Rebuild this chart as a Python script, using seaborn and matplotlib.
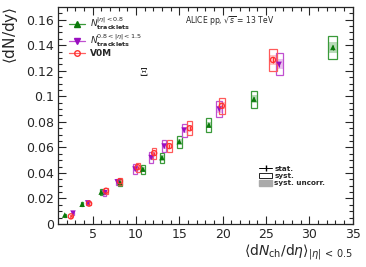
import numpy as np
import pandas as pd
import matplotlib
matplotlib.use("Agg")
import matplotlib.pyplot as plt
import seaborn as sns
from matplotlib.patches import Rectangle, Patch
from matplotlib.lines import Line2D

# Xi yields vs multiplicity, three estimators
trk08_x = [1.8, 3.8, 6.0, 8.15, 10.8, 13.0, 15.0, 18.4, 23.6, 32.7]
trk08_y = [0.0070, 0.0155, 0.0250, 0.0325, 0.0430, 0.0520, 0.0645, 0.0775, 0.0978, 0.1383]
trk08_sys = [0.0012, 0.0015, 0.0022, 0.0026, 0.0036, 0.0040, 0.0048, 0.0055, 0.0067, 0.0092]
trk08_xsys = [0.10, 0.15, 0.18, 0.20, 0.22, 0.24, 0.27, 0.30, 0.39, 0.52]

trk15_x = [2.75, 4.45, 6.4, 7.85, 9.9, 11.75, 13.25, 15.55, 19.6, 26.5]
trk15_y = [0.0085, 0.0165, 0.0245, 0.0330, 0.0430, 0.0520, 0.0610, 0.0735, 0.0900, 0.1250]
trk15_sys = [0.0012, 0.0014, 0.0022, 0.0026, 0.0038, 0.0042, 0.0046, 0.0052, 0.0060, 0.0086]
trk15_xsys = [0.15, 0.17, 0.18, 0.20, 0.22, 0.24, 0.26, 0.29, 0.33, 0.40]

v0m_x = [2.5, 4.6, 6.55, 8.15, 10.2, 12.1, 13.85, 16.2, 19.9, 25.8]
v0m_y = [0.0060, 0.0160, 0.0260, 0.0335, 0.0445, 0.0555, 0.0610, 0.0750, 0.0925, 0.1285]
v0m_sys = [0.0012, 0.0014, 0.0022, 0.0026, 0.0036, 0.0042, 0.0046, 0.0054, 0.0060, 0.0085]
v0m_xsys = [0.15, 0.17, 0.18, 0.20, 0.22, 0.24, 0.26, 0.29, 0.33, 0.45]

series = [
    ("trk08", trk08_x, trk08_y, trk08_sys, trk08_xsys, "#0b7a0b", "#3a9a3a"),
    ("trk15", trk15_x, trk15_y, trk15_sys, trk15_xsys, "#9a0fc0", "#c050d0"),
    ("v0m", v0m_x, v0m_y, v0m_sys, v0m_xsys, "#ff3030", "#ff5a5a"),
]

rows = []
for name, xs, ys, sy, sx, c1, c2 in series:
    for a, b in zip(xs, ys):
        rows.append({"est": name, "x": a, "y": b})
df = pd.DataFrame(rows)

sns.set_style("ticks")
fig = plt.figure(figsize=(3.66, 2.67), dpi=100)
ax = fig.add_axes([0.158, 0.161, 0.806, 0.813])

for name, xs, ys, sy, sx, c1, c2 in series:
    for a, b, e, w in zip(xs, ys, sy, sx):
        ax.add_patch(Rectangle((a - w, b - e), 2 * w, 2 * e, fill=False,
                               edgecolor=c2, lw=0.9, zorder=2))
        ax.add_patch(Rectangle((a - w, b - 0.45 * e), 2 * w, 0.9 * e,
                               facecolor=c2, alpha=0.35, lw=0, zorder=2))
    ax.errorbar(xs, ys, yerr=[0.0006 * (1 + v / 0.05) for v in ys], fmt="none",
                ecolor=c1, elinewidth=0.8, zorder=3)

sub = df[df.est == "trk08"]
sns.scatterplot(data=sub, x="x", y="y", marker="^", color="#0b7a0b", s=16,
                edgecolor="none", ax=ax, zorder=4, legend=False)
sub = df[df.est == "trk15"]
sns.scatterplot(data=sub, x="x", y="y", marker="v", color="#9a0fc0", s=16,
                edgecolor="none", ax=ax, zorder=4, legend=False)
sub = df[df.est == "v0m"]
sns.scatterplot(data=sub, x="x", y="y", marker="o", facecolor="none",
                edgecolor="#ff3030", linewidth=0.9, s=14, ax=ax, zorder=4, legend=False)

ax.set_xlim(1, 35)
ax.set_ylim(0, 0.17)
ax.set_xticks([5, 10, 15, 20, 25, 30, 35])
ax.set_xticks(np.arange(2, 35, 1), minor=True)
ax.set_yticks(np.arange(0, 0.161, 0.02))
ax.set_yticks(np.arange(0, 0.17, 0.005), minor=True)
ax.set_yticklabels(["0", "0.02", "0.04", "0.06", "0.08", "0.1", "0.12", "0.14", "0.16"])
ax.tick_params(which="both", direction="in", top=True, right=True, labelsize=9,
               width=0.8, pad=3)
ax.tick_params(which="major", length=6)
ax.tick_params(which="minor", length=3)
for s in ax.spines.values():
    s.set_linewidth(0.9)

ax.set_xlabel(r"$\langle$d$N_{\rm ch}$/d$\eta\rangle_{|\eta|\,<\,0.5}$", fontsize=10,
              loc="right", labelpad=1)
ax.set_ylabel(r"$\langle$dN/dy$\rangle$", fontsize=11, loc="top", labelpad=4)

ax.text(0.43, 0.965, r"ALICE pp, $\sqrt{s}$ = 13 TeV", transform=ax.transAxes,
        fontsize=5.5, va="top")
ax.text(10.9, 0.118, "Ξ", fontsize=9, family="Liberation Serif", ha="center",
        va="center")

h1 = [
    Line2D([], [], color="#3a9a3a", marker="^", markerfacecolor="#0b7a0b",
           markeredgecolor="#0b7a0b", markersize=4, lw=0.9),
    Line2D([], [], color="#c050d0", marker="v", markerfacecolor="#9a0fc0",
           markeredgecolor="#9a0fc0", markersize=4, lw=0.9),
    Line2D([], [], color="#ff6060", marker="o", markerfacecolor="none",
           markeredgecolor="#ff3030", markersize=4, lw=0.9),
]
lab1 = [r"$\mathbf{\mathit{N}}^{|\eta|<0.8}_{\mathbf{tracklets}}$",
        r"$\mathbf{\mathit{N}}^{0.8<|\eta|<1.5}_{\mathbf{tracklets}}$",
        "V0M"]
leg1 = ax.legend(h1, lab1, loc="upper left", bbox_to_anchor=(0.02, 0.985),
                 frameon=False, handlelength=1.8, labelspacing=0.05,
                 handletextpad=0.5, borderaxespad=0.2,
                 prop={"weight": "bold", "size": 6.5})
ax.add_artist(leg1)

h2 = [Line2D([], [], color="black", marker="|", markersize=5, lw=0.7),
      Patch(facecolor="white", edgecolor="black", lw=0.6),
      Patch(facecolor="#aaaaaa", edgecolor="#aaaaaa")]
ax.legend(h2, ["stat.", "syst.", "syst. uncorr."], loc="upper left",
          bbox_to_anchor=(0.66, 0.30), frameon=False, handlelength=1.8,
          handleheight=0.8, labelspacing=0.15, handletextpad=0.3,
          prop={"weight": "bold", "size": 5.2})

fig.savefig("out.png", dpi=100)
